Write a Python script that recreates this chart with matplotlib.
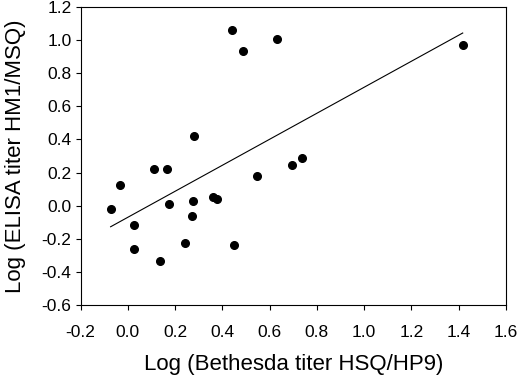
import matplotlib
matplotlib.use('Agg')
import matplotlib.pyplot as plt
import numpy as np

plt.rcParams['font.family'] = ['Liberation Sans', 'DejaVu Sans']

# data
log_bethesda = [-0.073, -0.034, 0.028, 0.027, 0.111, 0.166, 0.173, 0.138, 0.241, 0.270, 0.277,
                0.280, 0.362, 0.379, 0.442, 0.449, 0.486, 0.548, 0.630, 0.696, 0.737, 1.417]
log_elisa = [-0.022, 0.123, -0.117, -0.262, 0.222, 0.222, 0.010, -0.334, -0.223, -0.062, 0.030,
             0.419, 0.054, 0.040, 1.061, -0.240, 0.936, 0.181, 1.009, 0.248, 0.288, 0.968]
fit_x = [-0.073, 1.417]
fit_y = [-0.127, 1.043]

fig = plt.figure(figsize=(5.2, 3.79), dpi=100)
ax = fig.add_axes([0.155, 0.195, 0.818, 0.7865])

ax.plot(fit_x, fit_y, color='black', lw=0.8)
ax.plot(log_bethesda, log_elisa, 'o', color='black', markersize=5.5)

ax.set_xlim(-0.2, 1.6)
ax.set_ylim(-0.6, 1.2)
ax.set_xticks(np.arange(-0.2, 1.61, 0.2))
ax.set_yticks(np.arange(-0.6, 1.21, 0.2))
ax.xaxis.set_major_formatter(matplotlib.ticker.FormatStrFormatter('%.1f'))
ax.yaxis.set_major_formatter(matplotlib.ticker.FormatStrFormatter('%.1f'))
ax.tick_params(direction='out', length=3.6, width=0.8, labelsize=12.5, top=False, right=False)
ax.tick_params(axis='x', pad=11)
ax.tick_params(axis='y', pad=3)
for s in ax.spines.values():
    s.set_linewidth(0.8)

ax.set_xlabel('Log (Bethesda titer HSQ/HP9)', fontsize=16, labelpad=10)
ax.set_ylabel('Log (ELISA titer HM1/MSQ)', fontsize=16, labelpad=11)

plt.savefig('out.png', dpi=100)
